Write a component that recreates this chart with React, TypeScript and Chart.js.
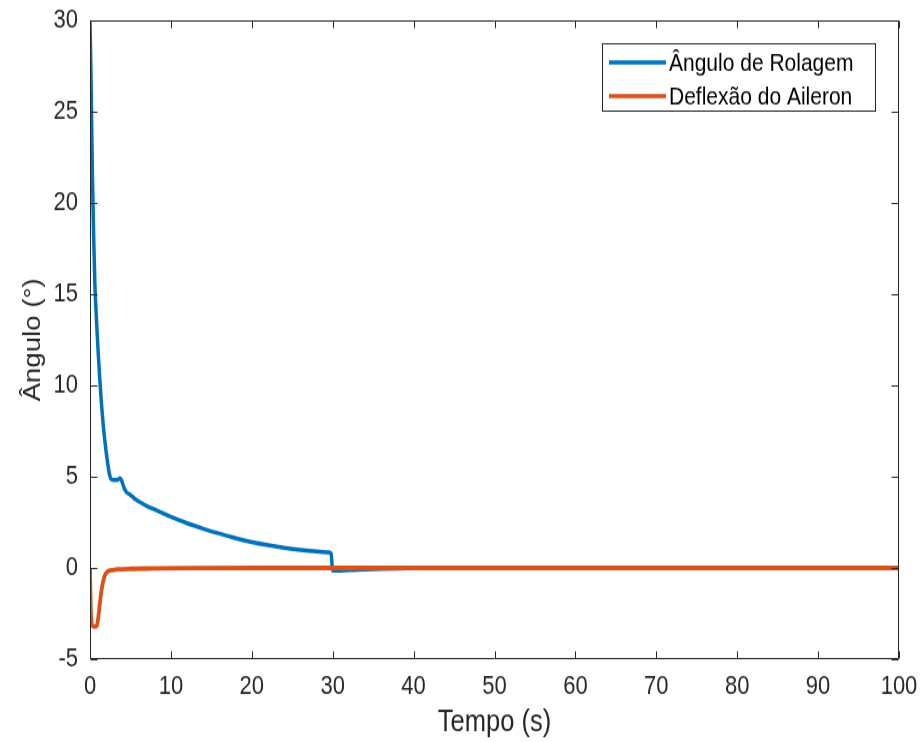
import React, { useEffect, useRef } from "react";
import { Chart, registerables } from "chart.js";

Chart.register(...registerables);

// ---- data ----
const rollTime = [0, 0.1, 0.2, 0.3, 0.45, 0.6, 0.8, 1.0, 1.2, 1.4, 1.6, 1.8, 2.1, 2.4, 2.6, 3.0, 3.4, 3.7, 3.9, 4.2, 4.5, 5.0, 5.5, 6, 7, 8, 9, 10, 12, 14, 16, 18, 20, 22, 24, 26, 28, 29.5, 29.8, 30, 31, 33, 36, 40, 45, 50, 60, 70, 80, 90, 100];
const rollAngle = [30, 27.5, 24.5, 21.5, 18.2, 15.6, 13.6, 11.9, 10.4, 9.1, 8.0, 7.1, 6.0, 5.15, 4.88, 4.82, 4.82, 4.92, 4.8, 4.4, 4.15, 4.0, 3.8, 3.65, 3.4, 3.2, 3.0, 2.8, 2.45, 2.15, 1.88, 1.63, 1.42, 1.25, 1.1, 0.98, 0.9, 0.85, 0.78, -0.14, -0.15, -0.1, -0.05, -0.02, -0.01, 0, 0, 0, 0, 0, 0];

const aileronTime = [0, 0.05, 0.1, 0.2, 0.35, 0.6, 0.85, 1.0, 1.2, 1.4, 1.6, 1.8, 2.0, 2.3, 2.8, 3.5, 5, 8, 12, 20, 30, 40, 50, 60, 70, 80, 90, 100];
const aileronDeflection = [0, -1.2, -2.3, -3.0, -3.2, -3.22, -3.15, -2.8, -2.0, -1.3, -0.8, -0.45, -0.28, -0.17, -0.12, -0.08, -0.05, -0.03, -0.01, 0, 0, 0, 0, 0, 0, 0, 0, 0];

const seriesNames = ["Ângulo de Rolagem", "Deflexão do Aileron"];
const seriesColors = ["#0072BD", "#D95319"];

const xMin = 0, xMax = 100, xStep = 10;
const yMin = -5, yMax = 30, yStep = 5;
const xTitle = "Tempo (s)";
const yTitle = "Ângulo (°)";

// ---- layout (internal canvas coords; canvas is stretched vertically) ----
const W = 920;
const H_CSS = 742;
const STRETCH = 1.2;
const H = Math.round(H_CSS / STRETCH);
const AXIS = "#262626";
const FONT = "'Liberation Sans', Arial, Helvetica, sans-serif";

const boxPlugin = {
  id: "matlabBox",
  afterDatasetsDraw(chart: any) {
    const { ctx, chartArea, scales } = chart;
    const { left, right, top, bottom } = chartArea;
    const x = scales.x, y = scales.y;
    ctx.save();
    ctx.strokeStyle = AXIS;
    ctx.lineWidth = 1;
    ctx.beginPath();
    const l = Math.round(left) + 0.5, r = Math.round(right) - 0.5;
    const t = Math.round(top) + 0.5, b = Math.round(bottom) - 0.5;
    ctx.rect(l, t, r - l, b - t);
    x.ticks.forEach((tk: any) => {
      const px = Math.round(x.getPixelForValue(tk.value)) + 0.5;
      ctx.moveTo(px, b); ctx.lineTo(px, b - 6);
      ctx.moveTo(px, t); ctx.lineTo(px, t + 6);
    });
    y.ticks.forEach((tk: any) => {
      const py = Math.round(y.getPixelForValue(tk.value)) + 0.5;
      ctx.moveTo(l, py); ctx.lineTo(l + 7, py);
      ctx.moveTo(r, py); ctx.lineTo(r - 7, py);
    });
    ctx.stroke();
    ctx.restore();
  },
};

const legendPlugin = {
  id: "boxLegend",
  afterDraw(chart: any) {
    const { ctx } = chart;
    const bx = 602.5, by = 36.5, bw = 273, bh = 56;
    ctx.save();
    ctx.fillStyle = "#ffffff";
    ctx.fillRect(bx, by, bw, bh);
    ctx.strokeStyle = AXIS;
    ctx.lineWidth = 1;
    ctx.strokeRect(bx, by, bw, bh);
    const rows = [52, 80];
    ctx.font = `21px ${FONT}`;
    ctx.textBaseline = "middle";
    ctx.textAlign = "left";
    chart.data.datasets.forEach((ds: any, i: number) => {
      const yy = rows[i];
      ctx.strokeStyle = ds.borderColor;
      ctx.lineWidth = 3.5;
      ctx.beginPath();
      ctx.moveTo(609, yy);
      ctx.lineTo(666, yy);
      ctx.stroke();
      ctx.fillStyle = "#000000";
      ctx.fillText(ds.label, 669, yy + 1);
    });
    ctx.restore();
  },
};

export default function App() {
  const ref = useRef<HTMLCanvasElement | null>(null);

  useEffect(() => {
    const canvas = ref.current;
    if (!canvas) return;
    const chart = new Chart(canvas, {
      type: "line",
      data: {
        datasets: [
          {
            label: seriesNames[0],
            data: rollTime.map((t, i) => ({ x: t, y: rollAngle[i] })),
            borderColor: seriesColors[0],
            backgroundColor: seriesColors[0],
            borderWidth: 3.5,
            pointRadius: 0,
            cubicInterpolationMode: "monotone",
            order: 1,
          },
          {
            label: seriesNames[1],
            data: aileronTime.map((t, i) => ({ x: t, y: aileronDeflection[i] })),
            borderColor: seriesColors[1],
            backgroundColor: seriesColors[1],
            borderWidth: 3.8,
            pointRadius: 0,
            cubicInterpolationMode: "monotone",
            order: 0,
          },
        ],
      },
      options: {
        responsive: false,
        animation: false,
        devicePixelRatio: 1,
        layout: { padding: { left: 0, right: 21, top: 17, bottom: 0 } },
        plugins: { legend: { display: false }, tooltip: { enabled: false } },
        scales: {
          x: {
            type: "linear",
            min: xMin,
            max: xMax,
            grid: { display: false, drawTicks: false },
            border: { display: false },
            ticks: {
              stepSize: xStep,
              padding: 10,
              color: AXIS,
              font: { family: FONT, size: 22 },
              maxRotation: 0,
            },
            title: {
              display: true,
              text: xTitle,
              color: AXIS,
              font: { family: FONT, size: 25.5 },
              padding: { top: 0, bottom: 1 },
            },
            afterFit(scale: any) {
              scale.height = H - 549;
              scale.paddingLeft = 0;
              scale.paddingRight = 0;
            },
          },
          y: {
            type: "linear",
            min: yMin,
            max: yMax,
            grid: { display: false, drawTicks: false },
            border: { display: false },
            ticks: {
              stepSize: yStep,
              padding: 12,
              color: AXIS,
              font: { family: FONT, size: 22 },
            },
            title: {
              display: true,
              text: yTitle,
              color: AXIS,
              font: { family: FONT, size: 23 },
              padding: { top: 19.5, bottom: 0 },
            },
            afterFit(scale: any) {
              scale.width = 90;
              scale.paddingTop = 0;
              scale.paddingBottom = 0;
            },
          },
        },
      },
      plugins: [boxPlugin, legendPlugin],
    });
    return () => chart.destroy();
  }, []);

  return (
    <div style={{ position: "fixed", left: 0, top: 0, width: W, height: H_CSS, background: "#ffffff" }}>
      <canvas
        ref={ref}
        width={W}
        height={H}
        style={{ display: "block", width: `${W}px`, height: `${H_CSS}px` }}
      />
    </div>
  );
}
